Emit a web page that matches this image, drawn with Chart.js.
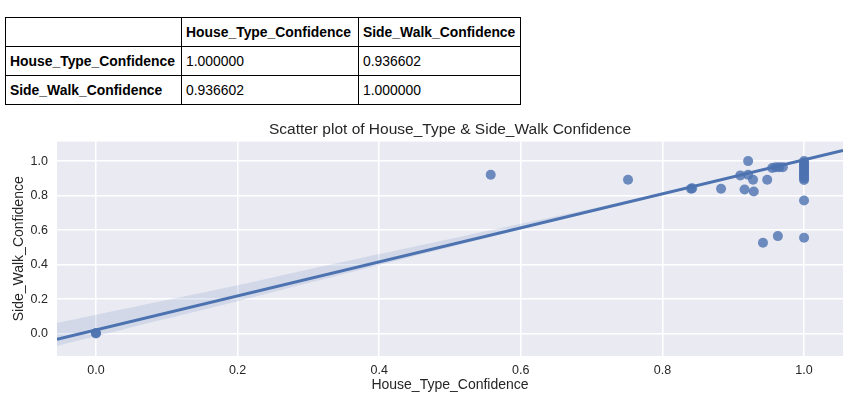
<!DOCTYPE html>
<html>
<head>
<meta charset="utf-8">
<script src="https://cdn.jsdelivr.net/npm/chart.js@4.4.0/dist/chart.umd.min.js"></script>
<style>
    body { margin: 0; background: #fff; width: 853px; height: 397px; overflow: hidden; position: relative; }
    #corrTable {
        position: absolute; left: 5px; top: 17px;
        border-collapse: collapse; table-layout: fixed;
        font-family: "Liberation Sans", Arial, sans-serif; font-size: 13.9px; color: #000;
    }
    #corrTable td, #corrTable th {
        border: 1px solid #000; height: 28px; padding: 0 4px; text-align: left; white-space: nowrap;
    }
    #corrTable th { font-weight: bold; }
    #chartCanvas { position: absolute; left: 0; top: 110px; }
</style>
</head>
<body>
<table id="corrTable"></table>
<canvas id="chartCanvas" width="853" height="287"></canvas>
<script>
// tabla de correlación
const corrColumns = ['House_Type_Confidence', 'Side_Walk_Confidence'];
const corrRow1 = ['1.000000', '0.936602'];
const corrRow2 = ['0.936602', '1.000000'];
const colWidths = [176, 177, 162];

// puntos del scatter
const houseType = [0, 0, 0.5575, 0.7514, 0.8404, 0.842, 0.8828, 0.910, 0.921, 0.921, 0.928, 0.916, 0.929, 0.948,
    0.955, 0.960, 0.965, 0.970, 0.942, 0.963, 1.0, 1.0,
    1.0, 1.0, 1.0, 1.0, 1.0, 1.0, 1.0, 1.0, 1.0, 1.0, 1.0, 1.0];
const sideWalk = [0, 0.003, 0.921, 0.892, 0.840, 0.842, 0.840, 0.917, 1.0, 0.921, 0.892, 0.835, 0.824, 0.892,
    0.960, 0.965, 0.965, 0.965, 0.527, 0.565, 0.556, 0.772,
    1.0, 0.99, 0.98, 0.97, 0.96, 0.95, 0.94, 0.93, 0.92, 0.91, 0.90, 0.89];

// recta de regresión y banda de confianza
const regX = [-0.055, 1.055];
const regY = [-0.033, 1.061];
const bandX = [-0.055, 0, 0.1, 0.2, 0.3, 0.4, 0.5, 0.6, 0.7, 0.8, 0.9, 1.0, 1.055];
const bandUpper = [0.061, 0.109, 0.195, 0.280, 0.372, 0.461, 0.549, 0.637, 0.724, 0.816, 0.913, 1.012, 1.068];
const bandLower = [-0.072, -0.016, 0.087, 0.188, 0.293, 0.398, 0.501, 0.603, 0.704, 0.804, 0.903, 1.002, 1.054];

const xTicks = [0, 0.2, 0.4, 0.6, 0.8, 1.0];
const yTicks = [0, 0.2, 0.4, 0.6, 0.8, 1.0];

// construir tabla
const table = document.getElementById('corrTable');
let html = '<colgroup>' + colWidths.map(w => `<col style="width:${w}px">`).join('') + '</colgroup>';
html += '<tr><th></th>' + corrColumns.map(c => `<th>${c}</th>`).join('') + '</tr>';
[corrRow1, corrRow2].forEach((row, i) => {
    html += `<tr><th>${corrColumns[i]}</th>` + row.map(v => `<td>${v}</td>`).join('') + '</tr>';
});
table.innerHTML = html;

const font = '"Liberation Sans", Arial, sans-serif';
const textColor = '#262626';
const blue = '#4c72b0';

const bgPlugin = {
    id: 'plotBg',
    beforeDraw(chart) {
        const a = chart.chartArea;
        chart.ctx.save();
        chart.ctx.fillStyle = '#eaeaf2';
        chart.ctx.fillRect(a.left, a.top, a.right - a.left, a.bottom - a.top);
        chart.ctx.restore();
    }
};

const ctx = document.getElementById('chartCanvas').getContext('2d');
new Chart(ctx, {
    type: 'scatter',
    data: {
        datasets: [
            {
                type: 'line', label: 'fit', order: 0,
                data: regX.map((x, i) => ({ x: x, y: regY[i] })),
                borderColor: blue, borderWidth: 3, pointRadius: 0, fill: false, tension: 0
            },
            {
                type: 'line', label: 'ci_upper', order: 1,
                data: bandX.map((x, i) => ({ x: x, y: bandUpper[i] })),
                borderWidth: 0, borderColor: 'rgba(0,0,0,0)', pointRadius: 0,
                backgroundColor: 'rgba(76,114,176,0.15)', fill: '+1', tension: 0.3
            },
            {
                type: 'line', label: 'ci_lower', order: 1,
                data: bandX.map((x, i) => ({ x: x, y: bandLower[i] })),
                borderWidth: 0, borderColor: 'rgba(0,0,0,0)', pointRadius: 0, fill: false, tension: 0.3
            },
            {
                label: 'points', order: 2,
                data: houseType.map((x, i) => ({ x: x, y: sideWalk[i] })),
                backgroundColor: 'rgba(76,114,176,0.8)', borderWidth: 0, pointRadius: 5
            }
        ]
    },
    options: {
        responsive: false,
        animation: false,
        layout: { padding: { left: 0, right: 10, top: 0, bottom: 0 } },
        plugins: {
            legend: { display: false },
            tooltip: { enabled: false },
            title: {
                display: true, fullSize: false,
                text: 'Scatter plot of House_Type & Side_Walk Confidence',
                color: textColor, font: { family: font, size: 15.5, weight: 'normal' },
                padding: { top: 10, bottom: 3 }
            }
        },
        scales: {
            x: {
                type: 'linear', min: -0.055, max: 1.055,
                afterBuildTicks: s => { s.ticks = xTicks.map(v => ({ value: v })); },
                afterFit: s => { s.height = 41; },
                grid: { color: '#ffffff', lineWidth: 1.5, drawTicks: false },
                border: { display: false },
                ticks: { color: textColor, font: { family: font, size: 12.5 }, padding: 7, callback: v => v.toFixed(1), maxRotation: 0 },
                title: { display: true, text: 'House_Type_Confidence', color: textColor, font: { family: font, size: 14 }, padding: { top: 0, bottom: 3 } }
            },
            y: {
                type: 'linear', min: -0.13, max: 1.113,
                afterBuildTicks: s => { s.ticks = yTicks.map(v => ({ value: v })); },
                afterFit: s => { s.width = 57; },
                grid: { color: '#ffffff', lineWidth: 1.5, drawTicks: false },
                border: { display: false },
                ticks: { color: textColor, font: { family: font, size: 12.5 }, padding: 9, callback: v => v.toFixed(1) },
                title: { display: true, text: 'Side_Walk_Confidence', color: textColor, font: { family: font, size: 14 }, padding: { top: 11, bottom: 0 } }
            }
        }
    },
    plugins: [bgPlugin]
});
</script>
</body>
</html>
